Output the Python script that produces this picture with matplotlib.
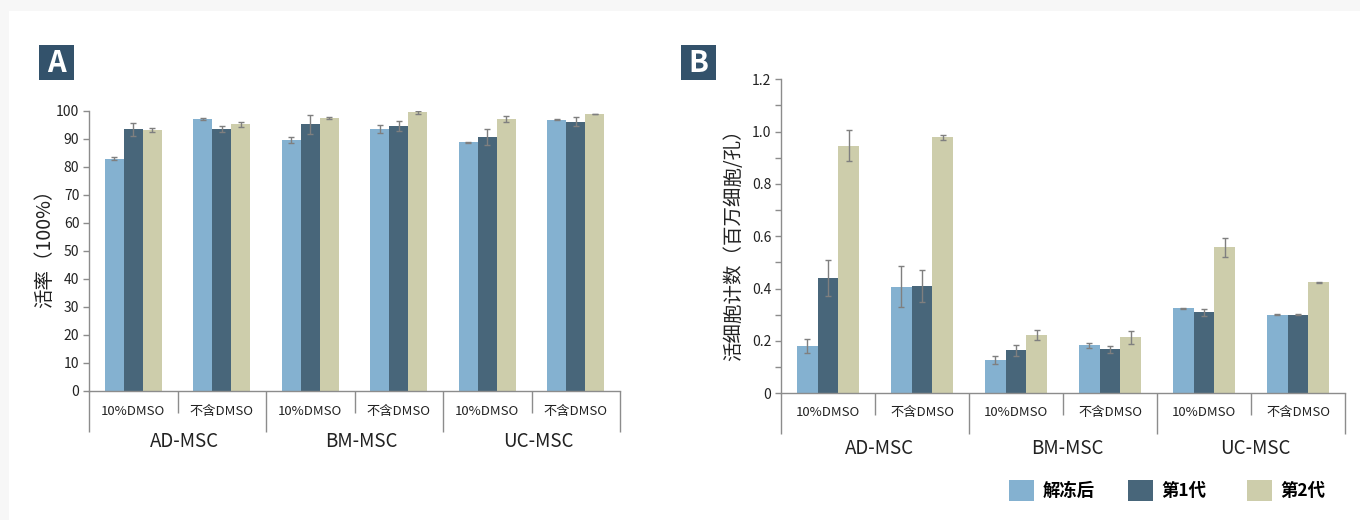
import matplotlib
matplotlib.use("Agg")
import matplotlib.pyplot as plt
from matplotlib.patches import Rectangle, Patch
from matplotlib.ticker import FixedLocator, MultipleLocator
import numpy as np

plt.rcParams['font.family'] = ['Noto Sans CJK SC', 'DejaVu Sans']

# ---------------- data ----------------
groups = ['AD-MSC', 'BM-MSC', 'UC-MSC']
conditions = ['10%DMSO', '不含DMSO']
series_names = ['解冻后', '第1代', '第2代']
colors = ['#84B1D0', '#48667A', '#CDCDAB']

# Panel A: viability (%)
via_thawed = [82.8, 97.1, 89.6, 93.4, 88.7, 96.8]
via_p1 = [93.4, 93.4, 95.1, 94.5, 90.6, 96.1]
via_p2 = [93.1, 95.1, 97.4, 99.4, 97.0, 98.8]
via_thawed_err = [0.5, 0.3, 1.0, 1.5, 0.1, 0.1]
via_p1_err = [2.3, 1.1, 3.4, 1.7, 2.7, 1.5]
via_p2_err = [0.6, 0.9, 0.2, 0.5, 1.0, 0.1]

# Panel B: viable cell count (million cells / well)
cnt_thawed = [0.181, 0.408, 0.126, 0.183, 0.325, 0.300]
cnt_p1 = [0.440, 0.410, 0.164, 0.168, 0.310, 0.300]
cnt_p2 = [0.947, 0.978, 0.223, 0.214, 0.558, 0.424]
cnt_thawed_err = [0.027, 0.080, 0.015, 0.011, 0.002, 0.002]
cnt_p1_err = [0.070, 0.060, 0.022, 0.013, 0.014, 0.002]
cnt_p2_err = [0.061, 0.010, 0.020, 0.025, 0.037, 0.002]

# ---------------- figure ----------------
W, H = 1360, 520
fig = plt.figure(figsize=(W / 100, H / 100), dpi=100, facecolor='#F7F7F7')
fig.patches.append(Rectangle((9 / W, 0), 1, 1 - 11 / H, transform=fig.transFigure,
                             facecolor='white', edgecolor='none', zorder=-5))

AXIS_COLOR = '#8C8C8C'
TEXT_COLOR = '#222222'
ERR_COLOR = '#7F7F7F'


def px_axes(l, t, r, b):
    ax = fig.add_axes([l / W, 1 - b / H, (r - l) / W, (b - t) / H])
    ax.set_zorder(2)
    ax.patch.set_alpha(0)
    return ax


def draw_panel(ax, vals, errs, width, ylim, major, minor, fmt, ax_w_px, ax_h_px,
               sub_off, grp_off, grp_shift, ylabel, ylabel_x, ylabel_y):
    n = len(conditions) * len(groups)
    x = np.arange(n)
    offsets = [-width, 0, width]
    for i in range(3):
        ax.bar(x + offsets[i], vals[i], width, color=colors[i], linewidth=0, zorder=2)
        ax.errorbar(x + offsets[i], vals[i], yerr=errs[i], fmt='none',
                    ecolor=ERR_COLOR, elinewidth=1.0, capsize=2.5, capthick=1.0, zorder=3)
    ax.set_xlim(-0.5, n - 0.5)
    ax.set_ylim(*ylim)
    for s in ['top', 'right']:
        ax.spines[s].set_visible(False)
    for s in ['left', 'bottom']:
        ax.spines[s].set_color(AXIS_COLOR)
        ax.spines[s].set_linewidth(1.0)
    ax.yaxis.set_major_locator(FixedLocator(major))
    ax.set_yticklabels([fmt(v) for v in major])
    if minor is not None:
        ax.yaxis.set_minor_locator(MultipleLocator(minor))
    ax.tick_params(axis='y', which='both', direction='out', length=4, width=1,
                   color=AXIS_COLOR, labelsize=10, labelcolor=TEXT_COLOR, pad=3)
    # x ticks: group boundaries long, condition boundaries short
    ax.xaxis.set_major_locator(FixedLocator([-0.5, 1.5, 3.5, 5.5]))
    ax.xaxis.set_minor_locator(FixedLocator([0.5, 2.5, 4.5]))
    ax.tick_params(axis='x', which='major', direction='out', length=41 * 0.72,
                   width=1, color=AXIS_COLOR, labelbottom=False)
    ax.tick_params(axis='x', which='minor', direction='out', length=22 * 0.72,
                   width=1, color=AXIS_COLOR, labelbottom=False)
    for k in range(n):
        ax.text(k, -sub_off / ax_h_px, conditions[k % 2], transform=ax.get_xaxis_transform(),
                ha='center', va='center', fontsize=9.5, color=TEXT_COLOR)
    shift = grp_shift * n / ax_w_px
    for g, name in enumerate(groups):
        ax.text(2 * g + 0.5 + shift, -grp_off / ax_h_px, name,
                transform=ax.get_xaxis_transform(),
                ha='center', va='center', fontsize=13.5, color=TEXT_COLOR)
    ax.set_ylabel(ylabel, fontsize=14, color=TEXT_COLOR)
    ax.yaxis.set_label_coords(ylabel_x, ylabel_y)


# Panel A
axA = px_axes(89, 110.7, 620, 390.7)
draw_panel(axA, [via_thawed, via_p1, via_p2], [via_thawed_err, via_p1_err, via_p2_err],
           0.215, (0, 100), list(range(0, 101, 10)), None, lambda v: f'{v:d}',
           531, 280, 21, 51, 7, '活率（100%）', -0.063, 0.525)

# Panel B
axB = px_axes(781, 79.3, 1345, 393.3)
draw_panel(axB, [cnt_thawed, cnt_p1, cnt_p2], [cnt_thawed_err, cnt_p1_err, cnt_p2_err],
           0.222, (0, 1.2), [0, 0.2, 0.4, 0.6, 0.8, 1.0, 1.2], 0.1,
           lambda v: '0' if v == 0 else f'{v:.1f}',
           564, 314, 19, 55, 4.5, '活细胞计数（百万细胞/孔）', -0.066, 0.488)

# Panel letters
for letter, x0 in [('A', 39), ('B', 681)]:
    fig.patches.append(Rectangle((x0 / W, 1 - 80 / H), 35 / W, 35 / H,
                                 transform=fig.transFigure, facecolor='#33526B',
                                 edgecolor='none', zorder=1))
    fig.text((x0 + 17.5) / W, 1 - 63 / H, letter, ha='center', va='center',
             fontsize=21, fontweight='bold', color='white',
             family=['Noto Sans CJK SC', 'DejaVu Sans'], zorder=2)

# Legend (one entry per slot, positioned like the reference)
legend_x = [1009, 1128, 1247]
for name, c, lx in zip(series_names, colors, legend_x):
    leg = fig.legend([Patch(facecolor=c, edgecolor='none')], [name], loc='center left',
                     bbox_to_anchor=(lx / W, 1 - 490.5 / H), frameon=False,
                     prop={'weight': 'bold', 'size': 12.5},
                     handlelength=1.45, handleheight=1.45, handletextpad=0.5,
                     borderpad=0, borderaxespad=0)

fig.savefig('out.png', dpi=100, facecolor=fig.get_facecolor())
